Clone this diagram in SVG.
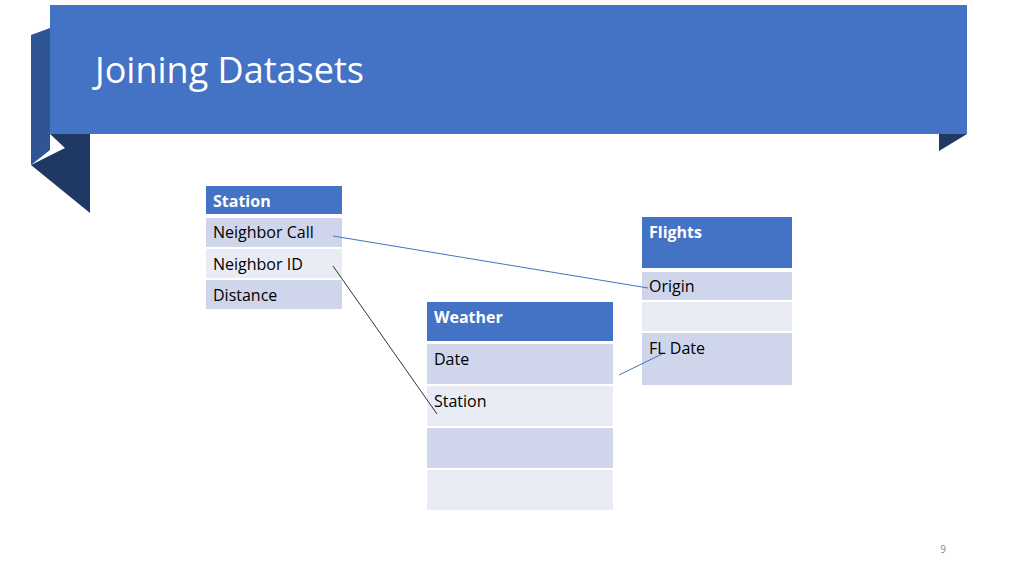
<svg xmlns="http://www.w3.org/2000/svg" width="1024" height="576" viewBox="0 0 1024 576">
<style>
.h{fill:#4472c4}.a{fill:#cfd5ea}.b{fill:#e9ebf5}
.t{font-family:"Open Sans","Liberation Sans",sans-serif;font-size:16px;fill:#000}
.ht{font-family:"Open Sans","Liberation Sans",sans-serif;font-size:16px;font-weight:bold;fill:#fff}
</style>
<rect width="1024" height="576" fill="#fff"/>
<g id="banner">
<polygon points="31,35 50,28 50,150 31,165" fill="#2f5597"/>
<polygon points="31,165 65,148 50,134 90,134 90,213" fill="#203864"/>
<polygon points="939,134 967,134 939,151" fill="#203864"/>
<rect x="50" y="5" width="917" height="129" fill="#4472c4"/>
<text x="95" y="83" font-family="'Open Sans','Liberation Sans',sans-serif" font-size="36" fill="#fff">Joining Datasets</text>
</g>
<g id="station">
<rect class="h" x="206" y="186" width="136" height="28"/>
<text class="ht" x="213" y="207">Station</text>
<rect class="a" x="206" y="218" width="136" height="29"/>
<text class="t" x="213" y="238">Neighbor Call</text>
<rect class="b" x="206" y="249" width="136" height="29"/>
<text class="t" x="213" y="270">Neighbor ID</text>
<rect class="a" x="206" y="280" width="136" height="29"/>
<text class="t" x="213" y="301">Distance</text>
</g>
<g id="flights">
<rect class="h" x="642" y="217" width="150" height="51"/>
<text class="ht" x="649" y="238">Flights</text>
<rect class="a" x="642" y="272" width="150" height="28"/>
<text class="t" x="649" y="292">Origin</text>
<rect class="b" x="642" y="302" width="150" height="29"/>
<rect class="a" x="642" y="333" width="150" height="52"/>
<text class="t" x="649" y="354">FL Date</text>
</g>
<g id="weather">
<rect class="h" x="427" y="302" width="186" height="39"/>
<text class="ht" x="434" y="323">Weather</text>
<rect class="a" x="427" y="344" width="186" height="40"/>
<text class="t" x="434" y="365">Date</text>
<rect class="b" x="427" y="386" width="186" height="40"/>
<text class="t" x="434" y="407">Station</text>
<rect class="a" x="427" y="428" width="186" height="40"/>
<rect class="b" x="427" y="470" width="186" height="40"/>
</g>
<g id="connectors" fill="none" stroke-width="1">
<line x1="333" y1="236" x2="648" y2="288" stroke="#4472c4"/>
<line x1="333" y1="266" x2="437" y2="414" stroke="#333"/>
<line x1="619" y1="375" x2="662" y2="354" stroke="#4472c4"/>
</g>
<text x="943" y="553" text-anchor="middle" font-family="'Open Sans','Liberation Sans',sans-serif" font-size="10" fill="#888">9</text>
</svg>
